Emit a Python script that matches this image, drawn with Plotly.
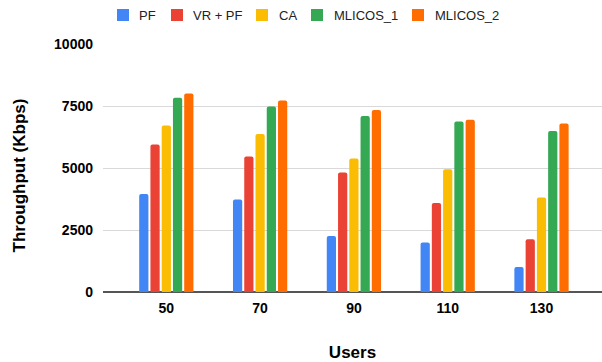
import plotly.graph_objects as go

# Number of users per scenario (x categories)
users = ["50", "70", "90", "110", "130"]

# Throughput per scheme, in Kbps
pf = [3950, 3730, 2260, 2000, 1010]
vr_pf = [5950, 5460, 4820, 3590, 2130]
ca = [6710, 6370, 5380, 4950, 3810]
mlicos_1 = [7830, 7480, 7100, 6870, 6490]
mlicos_2 = [8000, 7720, 7340, 6950, 6790]

series_names = ["PF", "VR + PF", "CA", "MLICOS_1", "MLICOS_2"]
series_values = [pf, vr_pf, ca, mlicos_1, mlicos_2]
series_colors = ["#4285F4", "#EA4335", "#FBBC04", "#34A853", "#FF6D01"]

y_ticks = [0, 2500, 5000, 7500, 10000]

FONT = "Arial, 'Liberation Sans', sans-serif"

# Page geometry (pixels)
W, H = 602, 362
ML, MR, MT, MB = 103, 0, 44, 70
PW, PH = W - ML - MR, H - MT - MB


def px_x(x):
    return (x - ML) / PW


def px_y(y):
    return (H - MB - y) / PH


fig = go.Figure()
for name, values, color in zip(series_names, series_values, series_colors):
    fig.add_trace(go.Bar(
        x=users, y=values, name=name,
        marker=dict(color=color, line=dict(width=0)),
        showlegend=False,
    ))

# Legend row across the top: swatch, then label
legend_swatch_x = [117, 171, 256, 311, 412]
legend_text_x = [137, 191, 276.5, 331.5, 432.5]
legend_cy = 15
shapes = []
annotations = []
for name, color, sx, tx in zip(series_names, series_colors, legend_swatch_x, legend_text_x):
    shapes.append(dict(
        type="rect", xref="paper", yref="paper",
        x0=px_x(sx), x1=px_x(sx + 12),
        y0=px_y(legend_cy + 6), y1=px_y(legend_cy - 6),
        fillcolor=color, line=dict(width=0), layer="above",
    ))
    annotations.append(dict(
        text=name, xref="paper", yref="paper",
        x=px_x(tx), y=px_y(legend_cy), xanchor="left", yanchor="middle",
        showarrow=False, font=dict(family=FONT, size=13, color="#222"),
    ))

# Vertical axis title
annotations.append(dict(
    text="<b>Throughput (Kbps)</b>", xref="paper", yref="paper",
    x=px_x(18.5), y=px_y(176), xanchor="center", yanchor="middle",
    textangle=-90, showarrow=False,
    font=dict(family=FONT, size=17, color="#000"),
))

fig.update_layout(
    width=W, height=H,
    margin=dict(l=ML, r=MR, t=MT, b=MB, autoexpand=False),
    paper_bgcolor="white", plot_bgcolor="white",
    barmode="group", bargap=0.40, bargroupgap=0.18,
    barcornerradius=2,
    font=dict(family=FONT, size=13, color="#000"),
    showlegend=False,
    shapes=shapes,
    annotations=annotations,
    xaxis=dict(
        type="category", range=[-0.675, 4.645],
        showgrid=False, showline=False, zeroline=False,
        tickfont=dict(family=FONT, size=14, color="#000", weight="bold"),
        ticks="", ticklabelstandoff=6,
        title=dict(text="Users", standoff=31,
                   font=dict(family=FONT, size=17, color="#000", weight="bold")),
    ),
    yaxis=dict(
        range=[0, 10000], tickvals=y_ticks,
        ticktext=[str(v) for v in y_ticks],
        showgrid=True, gridcolor="#D9D9D9", gridwidth=1,
        zeroline=True, zerolinecolor="#555", zerolinewidth=1.5,
        showline=False, ticks="", ticklabelstandoff=9,
        tickfont=dict(family=FONT, size=14, color="#000", weight="bold"),
    ),
)

fig.write_html("out.html")
